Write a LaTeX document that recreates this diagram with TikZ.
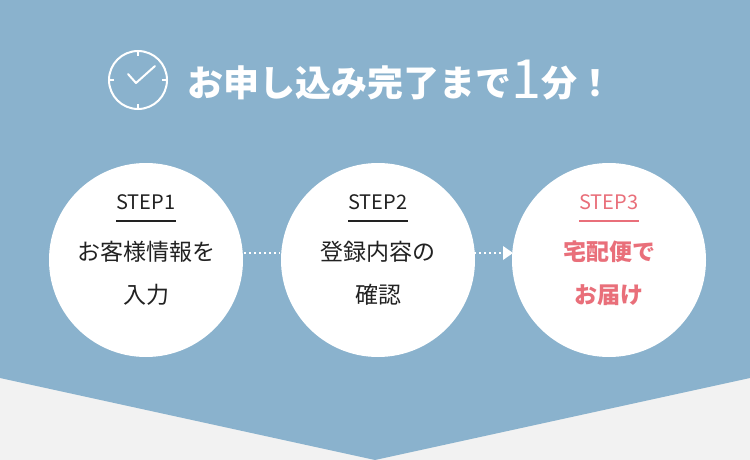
\documentclass[tikz,border=0pt]{standalone}
\usepackage{fontspec}
\usetikzlibrary{calc}
\newfontfamily\jp{Noto Sans CJK JP}
\definecolor{bgblue}{HTML}{8AB2CD}
\definecolor{bggray}{HTML}{F2F2F2}
\definecolor{pink}{HTML}{E96F7A}
\definecolor{ink}{HTML}{222222}
\tikzset{stepcirc/.style={circle,fill=white,minimum size=194pt,inner sep=0pt},
 steplabel/.style={font=\jp\fontsize{20}{20}\selectfont,text=ink},
 body/.style={font=\jp\fontsize{23}{43}\selectfont,text=ink,align=center},
 dotline/.style={white,line width=2pt,dash pattern=on 2pt off 3pt}}
\begin{document}
\begin{tikzpicture}[x=1pt,y=-1pt]
\useasboundingbox (0,0) rectangle (750,460);
\fill[bggray] (0,0) rectangle (750,460);
\fill[bgblue] (0,0) -- (750,0) -- (750,378) -- (375,460) -- (0,378) -- cycle;
% clock
\coordinate (ck) at (138,80);
\draw[white,line width=2pt] (ck) circle (29);
\foreach \a in {0,90,180,270}{\draw[white,line width=2pt] ($(ck)+(\a:29)$) -- ($(ck)+(\a:24)$);}
\draw[white,line width=2pt,line cap=round,line join=round] (128,74) -- (136,83) -- (155,66);
\node[anchor=west,text=white,font=\jp\bfseries\fontsize{36}{36}\selectfont,inner sep=0] (title) at (187,80)
 {お申し込み完了まで{\mdseries\fontsize{54}{54}\selectfont\raisebox{-2pt}{1}}分！};
% circles
\node[stepcirc] (c1) at (146,260) {};
\node[stepcirc] (c2) at (378,260) {};
\node[stepcirc] (c3) at (609,260) {};
\node[steplabel] (s1) at (146,202) {STEP1};
\node[steplabel] (s2) at (378,202) {STEP2};
\node[steplabel,text=pink] (s3) at (609,202) {STEP3};
\draw[ink,line width=1.5pt] (116,221) -- (176,221);
\draw[ink,line width=1.5pt] (348,221) -- (408,221);
\draw[pink,line width=1.5pt] (579,221) -- (639,221);
\node[body] (b1) at (146,273) {お客様情報を\\入力};
\node[body] (b2) at (378,273) {登録内容の\\確認};
\node[body,text=pink,font=\jp\bfseries\fontsize{23}{43}\selectfont] (b3) at (609,273) {宅配便で\\お届け};
\coordinate (d1a) at (244,253); \coordinate (d1b) at (280,253);
\coordinate (d2a) at (474,253); \coordinate (d2b) at (502,253);
\draw[dotline] (d1a) -- (d1b);
\draw[dotline] (d2a) -- (d2b);
\fill[white] (503,246) -- (513,253) -- (503,260) -- cycle;
\end{tikzpicture}
\end{document}
